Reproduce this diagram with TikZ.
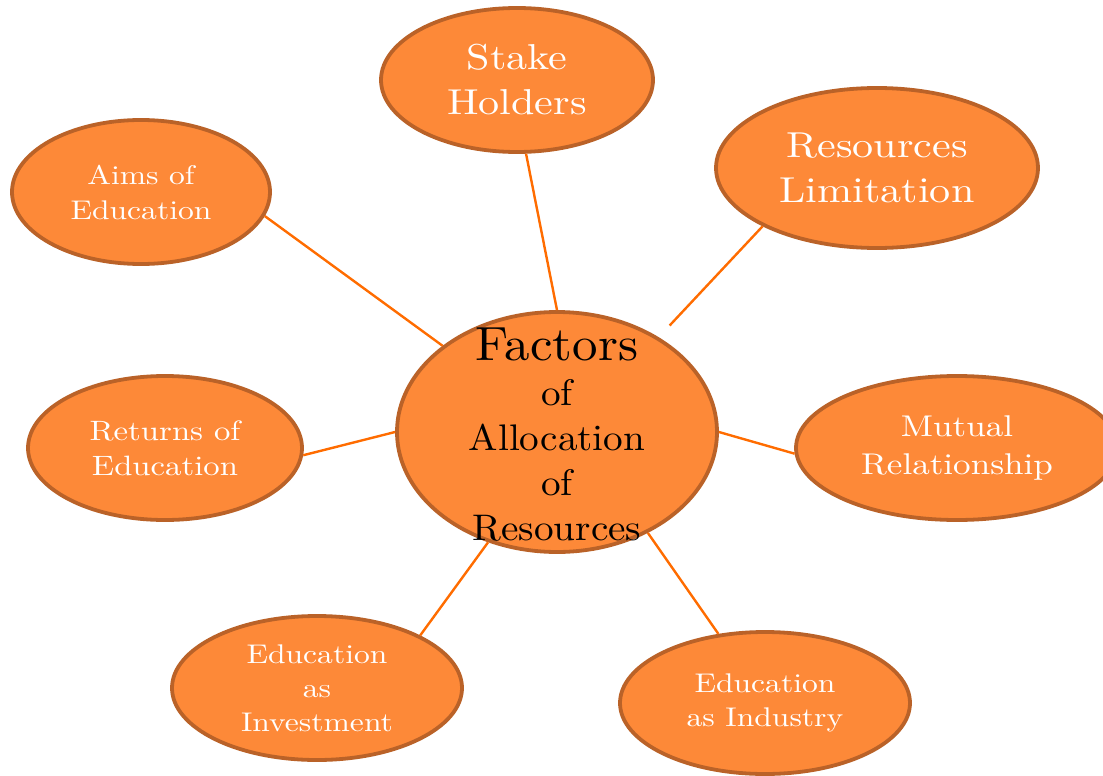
\documentclass[tikz,border=0pt]{standalone}
\usepackage{fontspec}
\setmainfont{lmroman10-regular.otf}[FakeStretch=1.17]
\newfontfamily\ctrfont{lmroman10-regular.otf}[FakeStretch=1.06]
\usetikzlibrary{shapes.geometric}
\definecolor{bubblefill}{RGB}{253,137,56}
\definecolor{bubbleedge}{RGB}{186,98,40}
\definecolor{linkline}{RGB}{255,108,0}
\tikzset{
  bubble/.style={ellipse, draw=bubbleedge, line width=3.8pt, fill=bubblefill,
    inner sep=0pt, align=center, text=white},
  link/.style={draw=linkline, line width=2.4pt},
}
\newcommand{\fsz}[2]{\fontsize{#1}{#2}\selectfont}
\begin{document}
\begin{tikzpicture}[x=1pt,y=-1pt]
\useasboundingbox (0,0) rectangle (1103,776);
\clip (0,0) rectangle (1103,776);
\node[bubble, minimum width=320pt, minimum height=240pt, text=black] (ctr) at (557,432) {};
\node[align=center, text=black, inner sep=0pt, anchor=north, font=\ctrfont\fsz{37}{45}] (ctrtext) at (557,328)
  {{\fsz{48}{45}Factors}\\of\\Allocation\\of\\Resources};
\node[bubble, minimum width=272pt, minimum height=144pt, font=\fsz{36}{45}] (stake) at (517,80) {Stake\\Holders};
\node[bubble, minimum width=258pt, minimum height=144pt, font=\fsz{27}{35}] (aims) at (141,192) {Aims of\\Education};
\node[bubble, minimum width=322pt, minimum height=160pt, font=\fsz{36}{45}] (reslim) at (877,168) {Resources\\Limitation};
\node[bubble, minimum width=274pt, minimum height=144pt, font=\fsz{28}{35}] (returns) at (165,448) {Returns of\\Education};
\node[bubble, minimum width=322pt, minimum height=144pt, font=\fsz{30}{38}] (mutual) at (957,448) {Mutual\\Relationship};
\node[bubble, minimum width=290pt, minimum height=144pt, font=\fsz{27}{34}] (invest) at (317,688) {Education\\as\\Investment};
\node[bubble, minimum width=290pt, minimum height=142pt, font=\fsz{27}{34}] (industry) at (765,703) {Education\\as Industry};
\path[link] (aims.-11) -- (ctr.143);
\path[link] (stake.-83) -- (ctr.90);
\path[link, shorten >=16pt] (reslim.207) -- (ctr.43);
\path[link] (returns.-3) -- (ctr.180);
\path[link] (mutual.182) -- (ctr.0);
\path[link] (invest.27) -- (ctr.238);
\path[link] (industry.124) -- (ctr.-48);
\end{tikzpicture}
\end{document}
